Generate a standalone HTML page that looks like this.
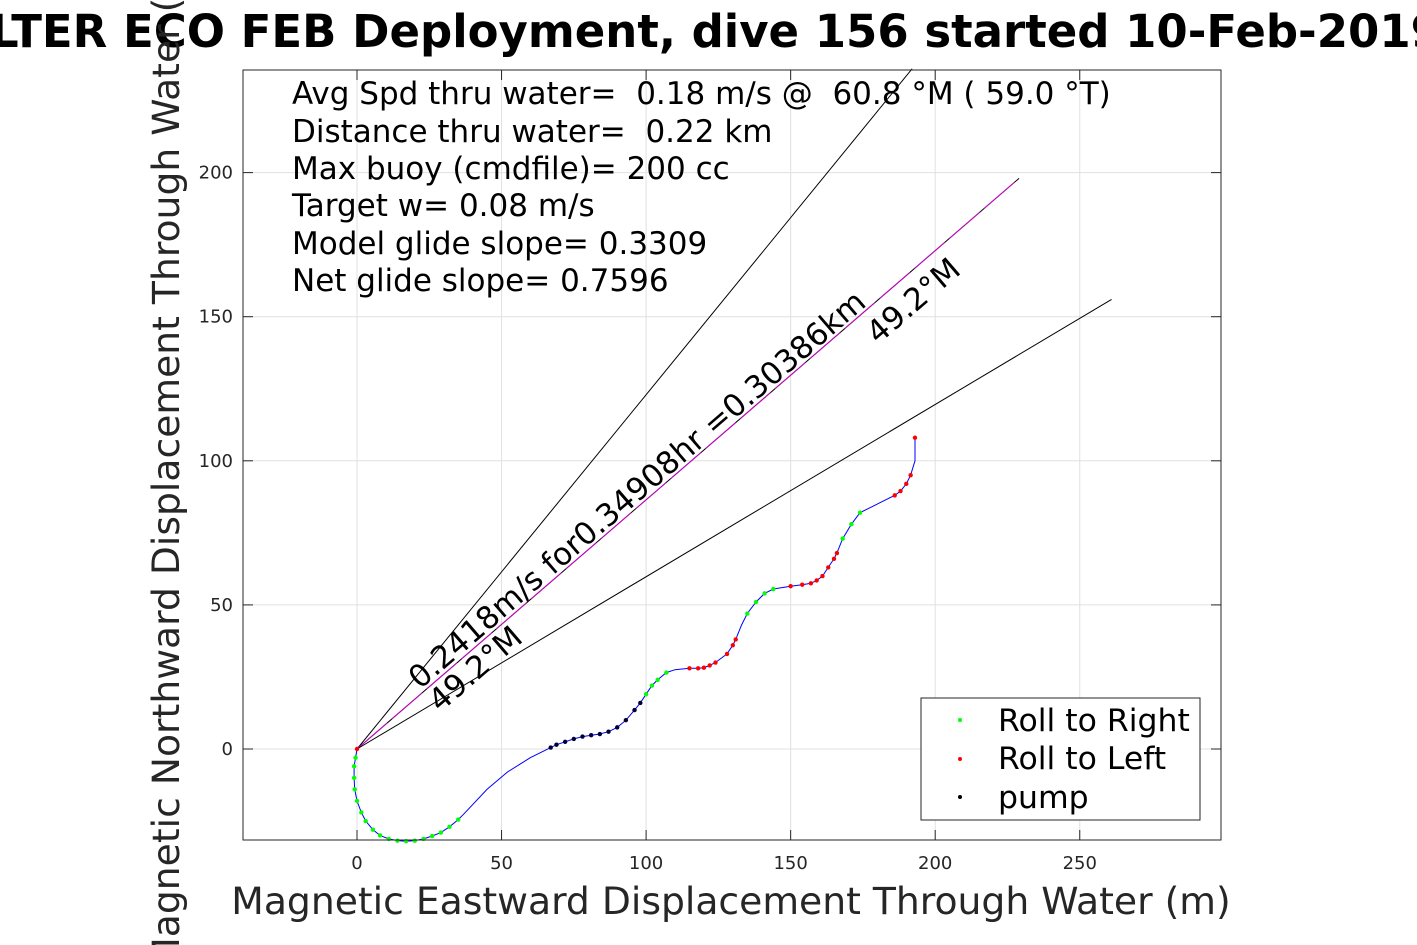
<!DOCTYPE html>
<html><head><meta charset="utf-8"><style>
html,body{margin:0;padding:0;background:#fff;overflow:hidden}
svg{display:block;font-family:"DejaVu Sans","Liberation Sans",sans-serif}
text{white-space:pre}
</style></head><body>
<svg id="chart" width="1417" height="945" viewBox="0 0 1417 945" xmlns="http://www.w3.org/2000/svg" xml:space="preserve">
<rect width="1417" height="945" fill="#fff"/>
<g id="grid"></g>
<g id="ticks"></g>
<g id="marks"></g>
<rect x="243" y="70" width="978" height="770" fill="none" stroke="#262626" stroke-width="1"/>
<text x="-10" y="47" font-size="45" font-weight="bold" fill="#000">LTER ECO FEB Deployment, dive 156 started 10-Feb-2019</text>
<text x="731" y="914" font-size="37.7" fill="#262626" text-anchor="middle">Magnetic Eastward Displacement Through Water (m)</text>
<text transform="translate(179,458) rotate(-90)" font-size="37.7" fill="#262626" text-anchor="middle">Magnetic Northward Displacement Through Water (m)</text>
<g font-size="31" fill="#000">
<text x="292" y="104">Avg Spd thru water=  0.18 m/s @  60.8 °M ( 59.0 °T)</text>
<text x="292" y="142">Distance thru water=  0.22 km</text>
<text x="292" y="179">Max buoy (cmdfile)= 200 cc</text>
<text x="292" y="216">Target w= 0.08 m/s</text>
<text x="292" y="254">Model glide slope= 0.3309</text>
<text x="292" y="291">Net glide slope= 0.7596</text>
</g>
<g>
<rect x="921" y="698" width="279" height="122" fill="#fff" stroke="#262626" stroke-width="1"/>
<circle cx="960" cy="720" r="2" fill="#00ff00"/>
<text x="998" y="731" font-size="31.5" fill="#000">Roll to Right</text>
<circle cx="960" cy="759" r="2" fill="#ff0000"/>
<text x="998" y="769" font-size="31.5" fill="#000">Roll to Left</text>
<circle cx="960" cy="797" r="2" fill="#000"/>
<text x="998" y="808" font-size="31.5" fill="#000">pump</text>
</g>
</svg>
<script>
const xTicks=[0,50,100,150,200,250];
const yTicks=[0,50,100,150,200];
const trackX=[0,-0.5,-1,-1,-0.8,0,1.5,3,5.5,8,11,14,17,20,23,26,29,32,35,37,45,52,60,67,69,72,75,78,81,84,87,90,93,96,98,100,102,104,107,110,115,118,120,122,124,128,130,131,133,135,138,141,144,150,154,157,159,161,163,165,166,168,171,174,178,182,186,188,190,191.5,193,193];
const trackY=[0,-3,-6,-10,-14,-18,-22,-25,-28,-30,-31.2,-31.8,-32,-31.8,-31.2,-30.2,-29,-27,-24.5,-22.5,-14,-8,-3,0.5,1.5,2.5,3.5,4.3,4.8,5.2,6,7.5,10,13.5,16,19,22,24,26.5,27.5,28,28,28.2,29,30,33,36,38,43,47,51,54,55.5,56.5,57,57.5,58.5,60,63,66,68,73,78,82,84,86,88,89.5,92,95,100,108];
const rollType=["r","g","g","g","g","g","g","g","g","g","g","g","g","g","g","g","g","g","g","n","n","n","n","k","k","k","k","k","k","k","k","k","k","k","k","g","g","g","g","n","r","r","r","r","r","r","r","r","n","g","g","g","g","r","r","r","r","r","r","r","r","g","g","g","n","n","r","r","r","r","n","r"];
const headingEnds=[[192,236],[229,198],[261,156]];
const NS="http://www.w3.org/2000/svg";
const xs=v=>357+(v)*2.891;
const ys=v=>749-(v)*2.882;
function mk(tag,attrs,parent){const e=document.createElementNS(NS,tag);for(const k in attrs)e.setAttribute(k,attrs[k]);parent.appendChild(e);return e;}
const grid=document.getElementById('grid'),ticks=document.getElementById('ticks'),marks=document.getElementById('marks');
xTicks.forEach(t=>{
  const l=mk('line',{x1:xs(t),x2:xs(t),y1:70,y2:840,stroke:'#e0e0e0','stroke-width':1},grid);
  
  
  mk('line',{x1:xs(t),x2:xs(t),y1:840,y2:830,stroke:'#262626'},ticks);
  mk('line',{x1:xs(t),x2:xs(t),y1:70,y2:80,stroke:'#262626'},ticks);
  const tx=mk('text',{x:xs(t),y:869,'font-size':18,fill:'#262626','text-anchor':'middle'},ticks);
  tx.textContent=t;
  
  
});
yTicks.forEach(t=>{
  const l=mk('line',{x1:243,x2:1221,y1:ys(t),y2:ys(t),stroke:'#e0e0e0','stroke-width':1},grid);
  
  
  mk('line',{x1:243,x2:253,y1:ys(t),y2:ys(t),stroke:'#262626'},ticks);
  mk('line',{x1:1221,x2:1211,y1:ys(t),y2:ys(t),stroke:'#262626'},ticks);
  const tx=mk('text',{x:233,y:ys(t)+6,'font-size':18,fill:'#262626','text-anchor':'end'},ticks);
  tx.textContent=t;
  
  
});
headingEnds.forEach((p,i)=>{
  const l=mk('line',{x1:xs(0),y1:ys(0),x2:xs(p[0]),y2:ys(p[1]),stroke:'#000','stroke-width':1},marks);
  
  
  if(i===1){
    const m=mk('line',{x1:xs(0),y1:ys(0),x2:xs(p[0]),y2:ys(p[1]),stroke:'#cc00cc','stroke-width':1,'stroke-dasharray':'40 6'},marks);
    
    
  }
});
const ang=-40.7;
const lab1=mk('text',{transform:`translate(420,690) rotate(${ang})`,'font-size':31,fill:'#000'},marks);
lab1.textContent='0.2418m/s for0.34908hr =0.30386km';


const lab2=mk('text',{transform:`translate(440,713) rotate(${ang})`,'font-size':31,fill:'#000'},marks);
lab2.textContent='49.2°M';


const lab3=mk('text',{transform:`translate(878,345) rotate(${ang})`,'font-size':31,fill:'#000'},marks);
lab3.textContent='49.2°M';


const pts=trackX.map((v,i)=>xs(v).toFixed(1)+','+ys(trackY[i]).toFixed(1)).join(' ');
const path=mk('polyline',{points:pts,fill:'none',stroke:'#0000ff','stroke-width':1},marks);


const colors={g:'#00ff00',r:'#ff0000',k:'#000033'};
trackX.forEach((v,i)=>{
  const t=rollType[i];
  if(!colors[t])return;
  const c=mk('circle',{cx:xs(v),cy:ys(trackY[i]),r:2.2,fill:colors[t]},marks);
  
  
});
</script>
</body></html>
